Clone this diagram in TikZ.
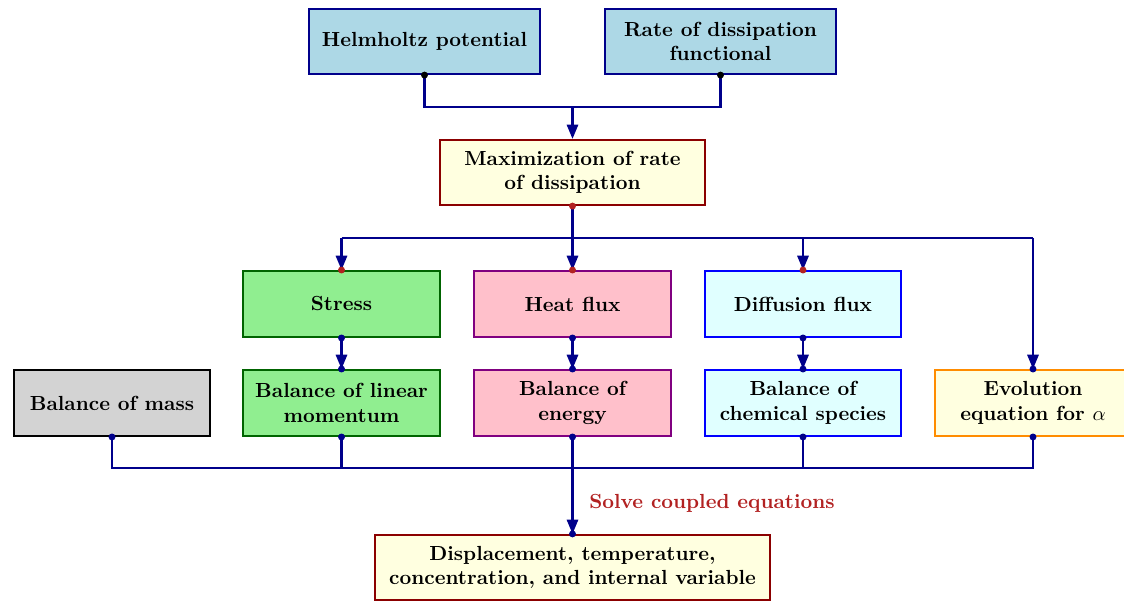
\documentclass[tikz,border=0pt]{standalone}
\usetikzlibrary{arrows.meta}
\definecolor{navyc}{RGB}{0,0,139}
\definecolor{lblue}{RGB}{173,216,230}
\definecolor{lyellow}{RGB}{255,255,224}
\definecolor{dred}{RGB}{139,0,0}
\definecolor{lgreen}{RGB}{144,238,144}
\definecolor{dgreen}{RGB}{0,100,0}
\definecolor{lpink}{RGB}{255,192,203}
\definecolor{purp}{RGB}{128,0,128}
\definecolor{lcyan}{RGB}{224,255,255}
\definecolor{lgray}{RGB}{211,211,211}
\definecolor{dorange}{RGB}{255,140,0}
\definecolor{fbrick}{RGB}{178,34,34}
\tikzset{
  box/.style={draw, line width=1pt, align=center, font=\bfseries, inner sep=2pt,
    minimum width=96.5pt, minimum height=32.3pt},
  conn/.style={draw=navyc, line width=1.1pt},
  arr/.style={conn, -{Triangle[length=7pt,width=5.5pt]}},
}
\begin{document}
\begin{tikzpicture}[x=0.49pt,y=-0.49pt]
\useasboundingbox (0,0) rectangle (1124,601);
% nodes
\node[box, fill=lblue, draw=navyc, minimum width=113.2pt, minimum height=31.9pt] (H) at (424.5,41.5) {Helmholtz potential};
\node[box, fill=lblue, draw=navyc, minimum width=113.2pt, minimum height=31.9pt] (R) at (720.5,41.5) {Rate of dissipation\\functional};
\node[box, fill=lyellow, draw=dred, minimum width=129.4pt, minimum height=31.9pt] (M) at (572.5,172.5) {Maximization of rate\\of dissipation};
\node[box, fill=lgreen, draw=dgreen] (S) at (341.5,304) {Stress};
\node[box, fill=lpink, draw=purp] (Q) at (572.5,304) {Heat flux};
\node[box, fill=lcyan, draw=blue] (D) at (803,304) {Diffusion flux};
\node[box, fill=lgray, draw=black] (BM) at (112,403) {Balance of mass};
\node[box, fill=lgreen, draw=dgreen] (BL) at (341.5,403) {Balance of linear\\momentum};
\node[box, fill=lpink, draw=purp] (BE) at (572.5,403) {Balance of\\energy};
\node[box, fill=lcyan, draw=blue] (BC) at (803,403) {Balance of\\chemical species};
\node[box, fill=lyellow, draw=dorange] (EV) at (1033,403) {Evolution\\equation for $\alpha$};
\node[box, fill=lyellow, draw=dred, minimum width=193.6pt, minimum height=31.9pt] (F) at (572.5,567.5) {Displacement, temperature,\\concentration, and internal variable};
% junctions
\coordinate (jt) at (572.5,107);
\coordinate (jm) at (572.5,238);
\coordinate (jb) at (572.5,468);
% top connectors
\draw[conn] (H.south) |- (jt);
\draw[conn] (R.south) |- (jt);
\draw[arr] (jt) -- (M.north);
% middle
\draw[conn] (M.south) -- (jm);
\draw[conn] (S.north |- jm) -- (EV.north |- jm);
\draw[arr] (jm) -- (Q.north);
\draw[arr] (S.north |- jm) -- (S.north);
\draw[arr] (D.north |- jm) -- (D.north);
\draw[arr] (EV.north |- jm) -- (EV.north);
% down arrows
\draw[arr] (S.south) -- (BL.north);
\draw[arr] (Q.south) -- (BE.north);
\draw[arr] (D.south) -- (BC.north);
% bottom bus
\draw[conn] (BM.south) |- (EV.south |- jb) -- (EV.south);
\draw[conn] (BL.south) -- (BL.south |- jb);
\draw[conn] (BC.south) -- (BC.south |- jb);
\draw[arr] (BE.south) -- (F.north);
\node[font=\bfseries, text=fbrick, anchor=west, inner sep=0pt] (lab) at (589,503) {Solve coupled equations};
% dots
\fill[black] (H.south) circle (1.7pt);
\fill[black] (R.south) circle (1.7pt);
\fill[fbrick] (M.south) circle (1.7pt);
\fill[fbrick] (S.north) circle (1.7pt);
\fill[fbrick] (Q.north) circle (1.7pt);
\fill[fbrick] (D.north) circle (1.7pt);
\foreach \n in {S.south,Q.south,D.south,BL.north,BE.north,BC.north,EV.north,BM.south,BL.south,BE.south,BC.south,EV.south,F.north}
  \fill[navyc] (\n) circle (1.7pt);
\end{tikzpicture}
\end{document}
